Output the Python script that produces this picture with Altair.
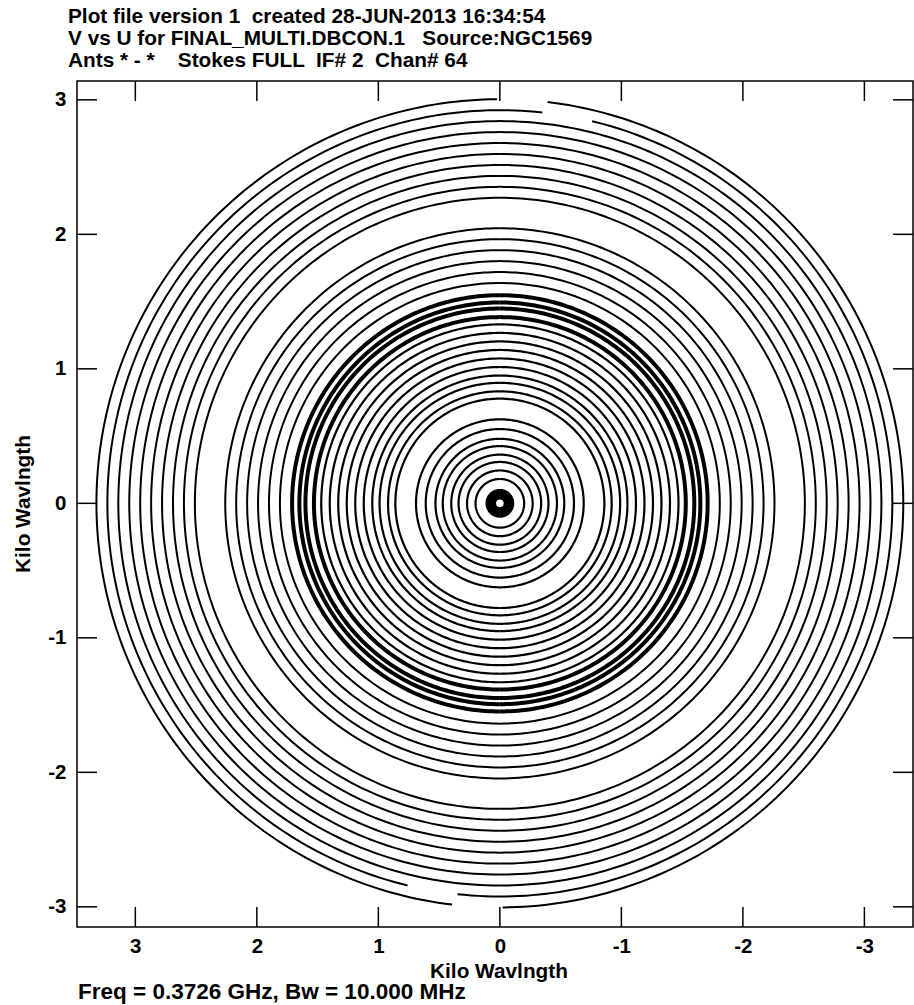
import altair as alt
import numpy as np
import pandas as pd

# ---------------- text ----------------
HEADER = [
    "Plot file version 1 \u00a0created 28-JUN-2013 16:34:54",
    "V vs U for FINAL_MULTI.DBCON.1 \u00a0\u00a0Source:NGC1569",
    "Ants * - * \u00a0\u00a0\u00a0Stokes FULL \u00a0IF# 2 \u00a0Chan# 64",
]
FOOTER = "Freq = 0.3726 GHz, Bw = 10.000 MHz"
AXIS_TITLE = "Kilo Wavlngth"
TICKS = [-3, -2, -1, 0, 1, 2, 3]

# ---------------- uv tracks ----------------
# East-west baselines trace ellipses in the uv plane: u semi-axis R,
# v semi-axis R * sin(dec).  NGC 1569 sits at dec ~ +64.8 deg.
SIN_DEC = 0.905

# u semi-axis of each baseline track (kilo-wavelengths), grouped by spacing
core_r = [0.05, 0.075, 0.10]
inner_r = [0.20, 0.27, 0.34, 0.40, 0.47, 0.53, 0.61, 0.69]
mid_r = [0.86, 0.92, 0.99, 1.05, 1.12, 1.19, 1.26, 1.33, 1.40, 1.47]
band_r = [1.53, 1.60, 1.65, 1.71]
wide_r = [1.81, 1.90, 1.99, 2.08, 2.17, 2.26]
outer_r = [2.51, 2.60, 2.69, 2.78, 2.87, 2.96, 3.05, 3.14, 3.23, 3.32]

# first / last position angle covered by each track (degrees from +v,
# towards +u); the conjugate visibilities repeat the arc rotated by 180 deg
outer_start = [0.0, 0.0, 0.0, 0.0, 0.0, 0.0, 0.0, 0.0, -6.2, 0.4]
outer_end = [180.0, 180.0, 180.0, 180.0, 180.0, 180.0, 180.0, 180.0, 166.4, 173.2]

GROUPS = [
    # radii, starts, ends, line width
    (core_r, [0.0] * 3, [180.0] * 3, 4.5),
    (inner_r, [0.0] * 8, [180.0] * 8, 2.2),
    (mid_r, [0.0] * 10, [180.0] * 10, 2.2),
    (band_r, [0.0] * 4, [180.0] * 4, 4.0),
    (wide_r, [0.0] * 6, [180.0] * 6, 2.0),
    (outer_r, outer_start, outer_end, 2.0),
]

frames = []
arc = 0
for radii, starts, ends, width in GROUPS:
    for r, a0, a1 in zip(radii, starts, ends):
        n = int(round(a1 - a0)) + 1
        phi = np.deg2rad(np.linspace(a0, a1, n))
        for turn in (0.0, np.pi):
            frames.append(pd.DataFrame({
                "u": np.round(r * np.sin(phi + turn), 4),
                "v": np.round(SIN_DEC * r * np.cos(phi + turn), 4),
                "k": np.arange(n),
                "arc": arc,
                "w": width,
            }))
            arc += 1
tracks = pd.concat(frames, ignore_index=True)

# ---------------- layout ----------------
W, H = 836, 846
TICK_LEN = 20
FONT = "Liberation Sans"

x_scale = alt.Scale(domain=[-3.40, 3.48], reverse=True, nice=False, zero=False)
y_scale = alt.Scale(domain=[-3.15, 3.14], nice=False, zero=False)

axis_common = dict(
    values=TICKS, labelExpr="'' + datum.value", ticks=False, domain=False,
    grid=False, title=None, labelFont=FONT, labelFontSize=20.5,
    labelFontWeight="bold", labelColor="black", labelFlush=False,
    labelOverlap=False,
)
x_axis = alt.Axis(labelPadding=9, **axis_common)
y_axis = alt.Axis(labelPadding=11, **axis_common)

X = alt.X("u:Q", scale=x_scale, axis=x_axis)
Y = alt.Y("v:Q", scale=y_scale, axis=y_axis)

rings = alt.Chart(tracks).mark_line(color="black", clip=True).encode(
    x=X, y=Y,
    detail="arc:N",
    order="k:Q",
    strokeWidth=alt.StrokeWidth("w:Q", scale=None),
)

tick_u = pd.DataFrame({"u": TICKS})
tick_v = pd.DataFrame({"v": TICKS})
rule = dict(color="black", strokeWidth=1.5)
ticks_bottom = alt.Chart(tick_u).mark_rule(**rule).encode(
    x=X, y=alt.value(H), y2=alt.value(H - TICK_LEN))
ticks_top = alt.Chart(tick_u).mark_rule(**rule).encode(
    x=X, y=alt.value(0), y2=alt.value(TICK_LEN))
ticks_left = alt.Chart(tick_v).mark_rule(**rule).encode(
    y=Y, x=alt.value(0), x2=alt.value(TICK_LEN))
ticks_right = alt.Chart(tick_v).mark_rule(**rule).encode(
    y=Y, x=alt.value(W), x2=alt.value(W - TICK_LEN))


def label(text, x, y, size=20.8, angle=0, align="left"):
    return alt.Chart(alt.Data(values=[{}])).mark_text(
        text=text, font=FONT, fontSize=size, fontWeight="bold", color="black",
        align=align, baseline="alphabetic", angle=angle,
    ).encode(x=alt.value(x), y=alt.value(y))


texts = [label(line, -9, -58 + 21.8 * i) for i, line in enumerate(HEADER)]
texts.append(label(AXIS_TITLE, 422, 897, align="center"))
texts.append(label(AXIS_TITLE, -47, 423, angle=270, align="center"))
texts.append(label(FOOTER, 1, 918, size=22.5))

chart = alt.layer(
    rings, ticks_bottom, ticks_top, ticks_left, ticks_right, *texts
).properties(
    width=W, height=H,
    padding={"left": 77, "top": 81, "right": 1, "bottom": 78},
    autosize=alt.AutoSizeParams(type="none"),
    background="white",
).configure_view(stroke="black", strokeWidth=1.5)

chart.save("out.html", embed_options={"renderer": "svg", "actions": False})
